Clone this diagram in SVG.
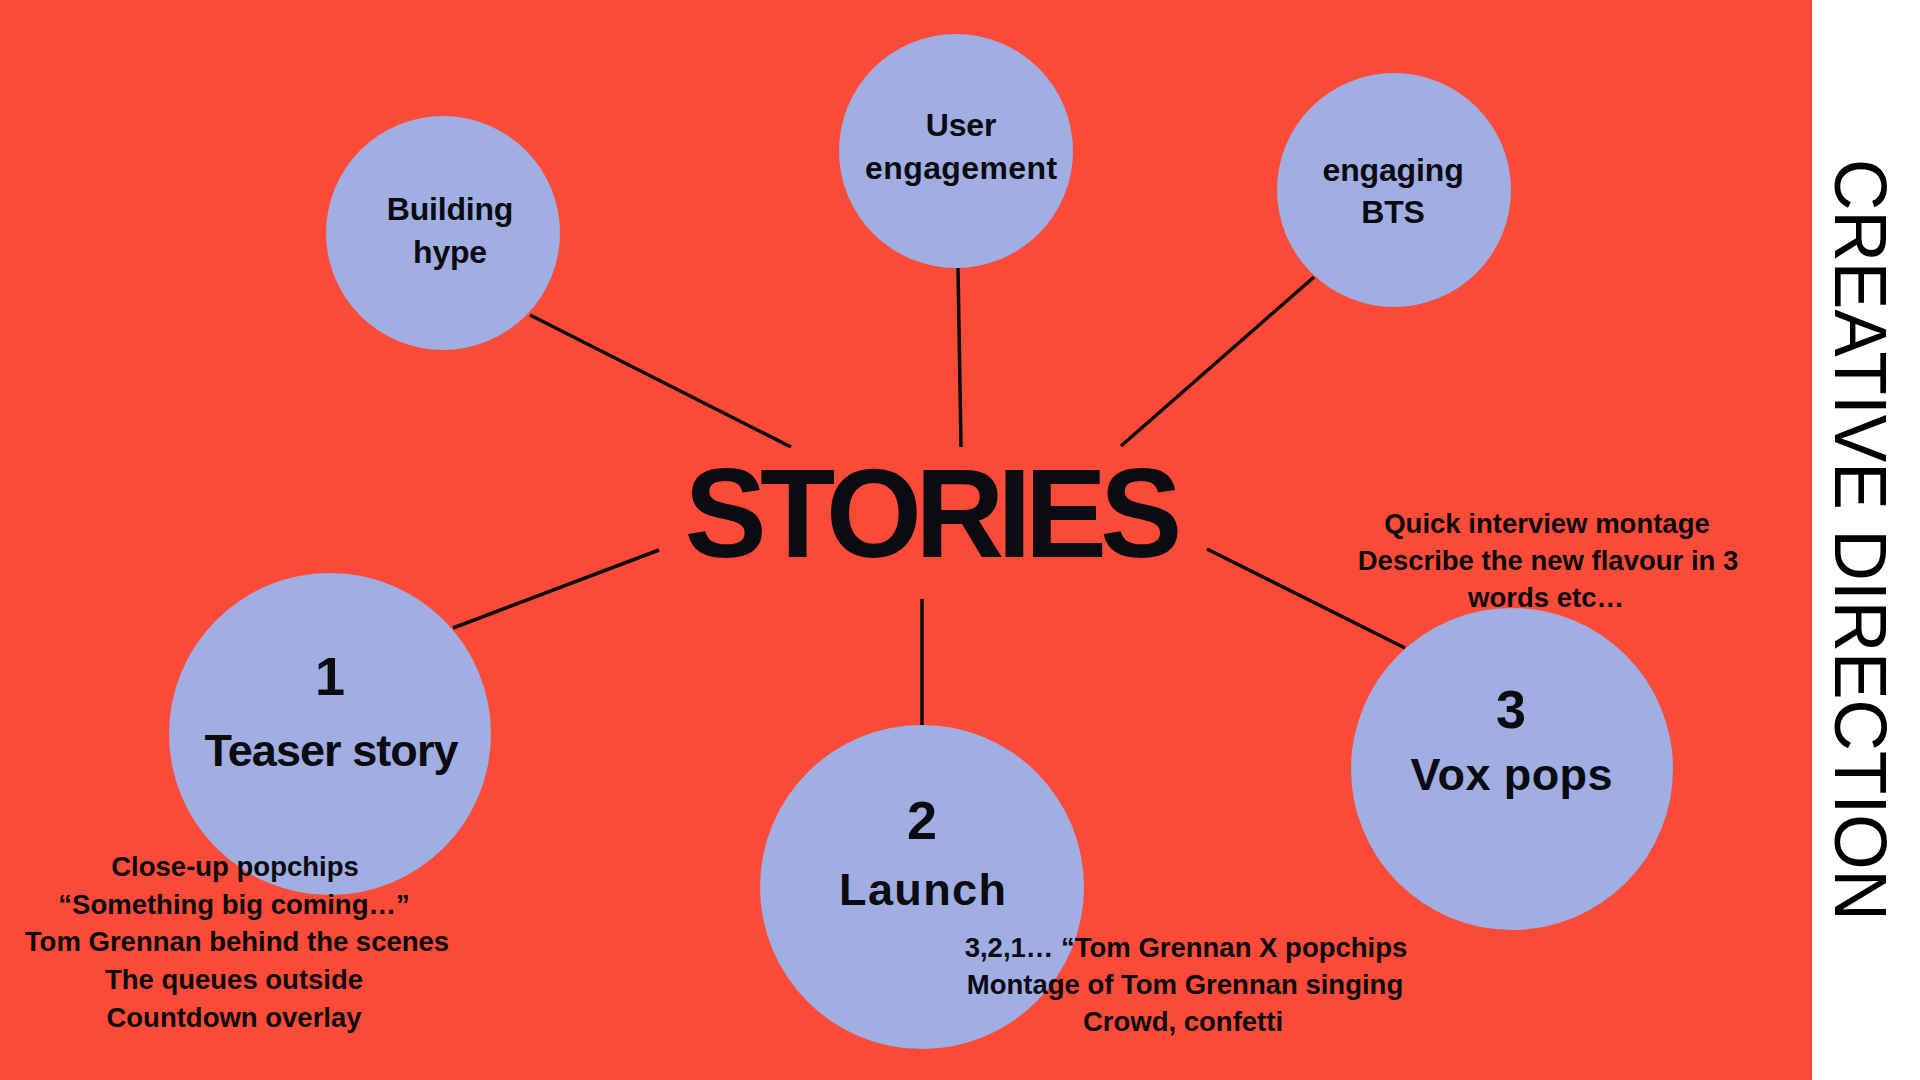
<svg xmlns="http://www.w3.org/2000/svg" width="1920" height="1080" viewBox="0 0 1920 1080">
  <style>
    .bg { fill: #FC4A38; }
    .node { fill: #A0AEE2; }
    .lbl { font-family: "Liberation Sans", Arial, sans-serif; font-weight: bold; fill: #0B0B12; text-anchor: middle; }
    .small { font-size: 32px; letter-spacing: -0.2px; }
    .big { font-size: 45px; letter-spacing: -1px; }
    .num { font-size: 54px; }
    .note { font-family: "Liberation Sans", Arial, sans-serif; font-weight: bold; font-size: 27.5px; fill: #0B0B12; text-anchor: middle; letter-spacing: 0px; }
    .conn { stroke: #0B0B0B; stroke-width: 3.5; fill: none; stroke-linecap: butt; }
  </style>
  <rect class="bg" x="0" y="0" width="1812" height="1080"/>
  <rect x="1812" y="0" width="108" height="1080" fill="#FFFFFF"/>

  <g id="connectors">
    <line class="conn" x1="530" y1="315" x2="791" y2="447"/>
    <line class="conn" x1="958" y1="268" x2="961" y2="447"/>
    <line class="conn" x1="1314" y1="277" x2="1121" y2="446"/>
    <line class="conn" x1="453" y1="628" x2="659" y2="550"/>
    <line class="conn" x1="922" y1="599" x2="922" y2="726"/>
    <line class="conn" x1="1207" y1="549" x2="1405" y2="648"/>
  </g>

  <g id="node-building-hype">
    <circle class="node" cx="443" cy="233" r="117"/>
    <text class="lbl small" x="450" y="220">Building</text>
    <text class="lbl small" x="450" y="263">hype</text>
  </g>

  <g id="node-user-engagement">
    <circle class="node" cx="956" cy="151" r="117"/>
    <text class="lbl small" x="961" y="136">User</text>
    <text class="lbl small" x="961" y="179" textLength="192">engagement</text>
  </g>

  <g id="node-engaging-bts">
    <circle class="node" cx="1394" cy="190" r="117"/>
    <text class="lbl small" x="1393" y="181" textLength="141">engaging</text>
    <text class="lbl small" x="1393" y="223">BTS</text>
  </g>

  <g id="node-stories">
    <text class="lbl" x="930" y="557" font-size="126" letter-spacing="-7" textLength="491" lengthAdjust="spacingAndGlyphs" style="font-weight:900">STORIES</text>
  </g>

  <g id="node-teaser">
    <circle class="node" cx="330" cy="734" r="161"/>
    <text class="lbl num" x="330" y="695">1</text>
    <text class="lbl big" x="331" y="766" textLength="253">Teaser story</text>
  </g>

  <g id="node-launch">
    <circle class="node" cx="922" cy="887" r="162"/>
    <text class="lbl num" x="922" y="839">2</text>
    <text class="lbl big" x="922" y="905" textLength="166">Launch</text>
  </g>

  <g id="node-vox-pops">
    <circle class="node" cx="1512" cy="769" r="161"/>
    <text class="lbl num" x="1511" y="728">3</text>
    <text class="lbl big" x="1511" y="790" textLength="201">Vox pops</text>
  </g>

  <g id="notes-teaser">
    <text class="note" x="235" y="876">Close-up popchips</text>
    <text class="note" x="234" y="914">“Something big coming…”</text>
    <text class="note" x="237" y="951">Tom Grennan behind the scenes</text>
    <text class="note" x="234" y="989">The queues outside</text>
    <text class="note" x="234" y="1027">Countdown overlay</text>
  </g>

  <g id="notes-launch">
    <text class="note" x="1186" y="957">3,2,1… “Tom Grennan X popchips</text>
    <text class="note" x="1185" y="994">Montage of Tom Grennan singing</text>
    <text class="note" x="1183" y="1031">Crowd, confetti</text>
  </g>

  <g id="notes-vox">
    <text class="note" x="1547" y="533">Quick interview montage</text>
    <text class="note" x="1548" y="570">Describe the new flavour in 3</text>
    <text class="note" x="1546" y="607">words etc…</text>
  </g>

  <g id="title">
    <text transform="translate(1835,159) rotate(90)" x="0" y="0" font-family="Liberation Sans, Arial, sans-serif" font-size="74" fill="#000000" textLength="762" lengthAdjust="spacingAndGlyphs">CREATIVE DIRECTION</text>
  </g>
</svg>
